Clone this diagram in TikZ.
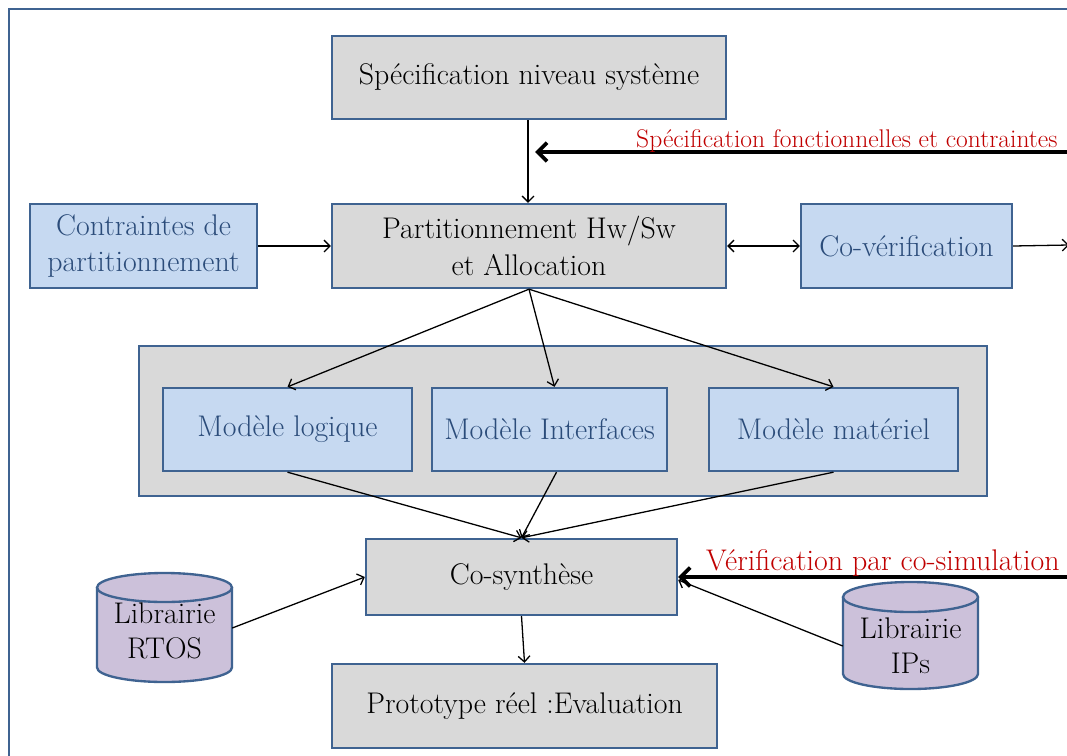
\documentclass[tikz,border=0pt]{standalone}
\usetikzlibrary{arrows.meta,calc}
\definecolor{boxgray}{HTML}{D9D9D9}
\definecolor{boxblue}{HTML}{C6D9F1}
\definecolor{edgeblue}{HTML}{3F6391}
\definecolor{txtblue}{HTML}{2B4C7A}
\definecolor{txtred}{HTML}{C00000}
\definecolor{lav}{HTML}{CCC1DA}
\tikzset{
  every node/.style={font=\fontsize{25.5}{31}\selectfont},
  graybox/.style={draw=edgeblue, line width=2pt, fill=boxgray, align=center, inner sep=0pt},
  bluebox/.style={draw=edgeblue, line width=2pt, fill=boxblue, align=center, text=txtblue, inner sep=0pt},
  conn/.style={draw=black, line width=1.1pt, -{Straight Barb[length=5pt,width=10pt]}},
  dconn/.style={draw=black, line width=1.1pt, {Straight Barb[length=5pt,width=10pt]}-{Straight Barb[length=5pt,width=10pt]}},
  bigarrow/.style={draw=black, line width=3.2pt, -{Straight Barb[length=8pt,width=16pt]}},
  redlabel/.style={text=txtred, inner sep=0pt},
  cyl/.style={draw=edgeblue, line width=2pt, fill=lav},
  cyltext/.style={align=center, inner sep=0pt, text=black, font=\fontsize{25.5}{29.5}\selectfont},
}
\begin{document}
\begin{tikzpicture}[x=0.03cm, y=-0.03cm]
\useasboundingbox (0,0) rectangle (1067,755);
\clip (0,0) rectangle (1067,755);
\fill[white] (0,0) rectangle (1067,755);
% outer frame
\draw[edgeblue, line width=2.4pt] (9,9) rectangle (1090,780);

% top boxes
\node[graybox, minimum width=11.82cm, minimum height=2.49cm] (spec) at (529,77.5) {Spécification niveau système};
\node[graybox, minimum width=11.82cm, minimum height=2.52cm] (part) at (529,246) {Partitionnement Hw/Sw\\et Allocation};
\node[bluebox, minimum width=6.81cm, minimum height=2.52cm] (contr) at (143.5,246) {Contraintes de\\partitionnement};
\node[bluebox, minimum width=6.33cm, minimum height=2.52cm] (cover) at (906.5,246) {Co-vérification};

% container and models
\node[draw=edgeblue, line width=2pt, fill=boxgray, minimum width=25.44cm, minimum height=4.5cm, inner sep=0pt] (cont) at (563,421) {};
\node[bluebox, minimum width=7.47cm, minimum height=2.49cm] (logique) at (287.5,429.5) {Modèle logique};
\node[bluebox, minimum width=7.05cm, minimum height=2.49cm] (interf) at (549.5,429.5) {Modèle Interfaces};
\node[bluebox, minimum width=7.47cm, minimum height=2.49cm] (mater) at (833.5,429.5) {Modèle matériel};

% lower boxes
\node[graybox, minimum width=9.33cm, minimum height=2.28cm] (cosyn) at (521.5,577) {Co-synthèse};
\node[graybox, minimum width=11.55cm, minimum height=2.52cm] (proto) at (524.5,706) {Prototype réel :Evaluation};

% cylinders
\path[cyl] (97,587.5) -- (97,667.5) arc[start angle=180, end angle=360, x radius=2.025cm, y radius=0.435cm] -- (232,587.5);
\path[cyl] (164.5,587.5) ellipse [x radius=2.025cm, y radius=0.435cm];
\node[cyltext, minimum width=4.05cm, minimum height=2.4cm] (rtos) at (164.5,631) {Librairie\\RTOS};

\path[cyl] (843,597) -- (843,674) arc[start angle=180, end angle=360, x radius=2.025cm, y radius=0.45cm] -- (978,597);
\path[cyl] (910.5,597) ellipse [x radius=2.025cm, y radius=0.45cm];
\node[cyltext, minimum width=4.05cm, minimum height=2.4cm] (ips) at (910.5,646) {Librairie\\IPs};

% coordinates for free ends
\coordinate (specin) at (1080,152);
\coordinate (specend) at (535,152);
\coordinate (verin) at (1080,577);
\coordinate (coverout) at (1069,245);

% connectors
\draw[conn] (spec.south -| 528,0) -- (part.north -| 528,0);
\draw[conn] (contr.east) -- (part.west);
\draw[dconn] (part.east) -- (cover.west);
\draw[conn] (cover.east) -- (coverout);
\draw[conn] (part.south) -- (logique.north);
\draw[conn] (part.south) -- ($(interf.north)+(5,0)$);
\draw[conn] (part.south) -- (mater.north);
\draw[conn] (logique.south) -- (cosyn.north);
\draw[conn] ($(interf.south)+(7,0)$) -- (cosyn.north);
\draw[conn] (mater.south) -- (cosyn.north);
\draw[conn] ($(rtos.east)+(0,-3)$) -- (cosyn.west);
\draw[conn] (ips.west) -- ($(cosyn.east)+(0,3)$);
\draw[conn] (cosyn.south) -- (proto.north);

% thick arrows with red labels
\draw[bigarrow] (specin) -- (specend);
\node[redlabel, anchor=base west, font=\fontsize{21.8}{26}\selectfont] (speclab) at (636,147) {Spécification fonctionnelles et contraintes};
\draw[bigarrow] (verin) -- (cosyn.east);
\node[redlabel, anchor=base west] (verlab) at (706,570) {Vérification par co-simulation};
\end{tikzpicture}
\end{document}
